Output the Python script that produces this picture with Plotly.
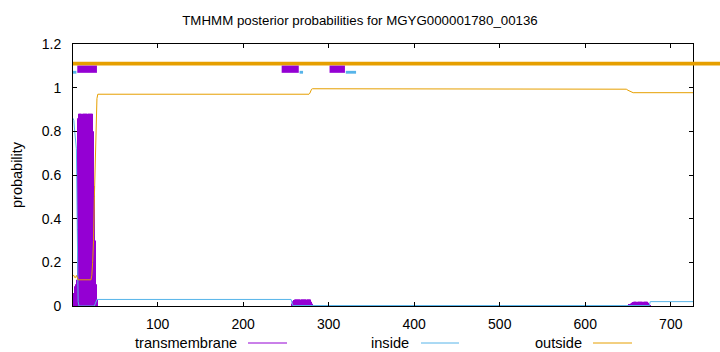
import plotly.graph_objects as go

# ---------------- data ----------------
title_text = "TMHMM posterior probabilities for MGYG000001780_00136"
seq_len = 726
x_ticks = [100, 200, 300, 400, 500, 600, 700]
y_ticks = [0, 0.2, 0.4, 0.6, 0.8, 1.0, 1.2]
y_tick_labels = ["0", "0.2", "0.4", "0.6", "0.8", "1", "1.2"]

# transmembrane posterior (impulses), per residue, in three stretches
tm1_start = 1
tm1_vals = [0.02, 0.06, 0.09, 0.10, 0.12, 0.50, 0.86,
            0.88, 0.88, 0.88, 0.88, 0.88, 0.88, 0.88, 0.88,
            0.88, 0.88, 0.88, 0.88, 0.88, 0.88, 0.88, 0.88,
            0.86, 0.80, 0.55, 0.30, 0.10, 0.03]
tm2_start = 257
tm2_vals = [0.012, 0.022, 0.027,
            0.03, 0.03, 0.03, 0.03, 0.03, 0.03, 0.03, 0.03, 0.03, 0.03,
            0.03, 0.03, 0.03, 0.03, 0.03, 0.03, 0.03, 0.03, 0.03,
            0.028, 0.02, 0.01]
tm3_start = 650
tm3_vals = [0.003, 0.006, 0.009, 0.012, 0.015, 0.017, 0.018,
            0.019, 0.019, 0.019, 0.019, 0.019, 0.019, 0.019, 0.019,
            0.019, 0.019, 0.019, 0.019, 0.019, 0.019, 0.019, 0.019,
            0.018, 0.015, 0.008, 0.002]

# inside posterior (line), breakpoints
inside_x = [1, 2, 3, 4, 5, 6, 7, 8, 26, 27, 28, 29, 256, 257, 258, 675, 676, 726]
inside_y = [0.86, 0.85, 0.80, 0.75, 0.72, 0.35, 0.02, 0.0, 0.0, 0.01, 0.02, 0.03,
            0.03, 0.015, 0.002, 0.002, 0.02, 0.02]

# outside posterior (line), breakpoints
outside_x = [1, 2, 3, 4, 5, 6, 7, 22, 23, 24, 25, 26, 27, 28, 29, 30,
             277, 278, 279, 280, 281, 646, 648, 650, 652, 654, 656, 726]
outside_y = [0.14, 0.14, 0.13, 0.13, 0.14, 0.13, 0.12, 0.12, 0.14, 0.20, 0.30, 0.50,
             0.70, 0.88, 0.95, 0.97, 0.97, 0.975, 0.985, 0.993, 0.995,
             0.995, 0.993, 0.988, 0.983, 0.979, 0.977, 0.977]

# predicted topology (top bars)
tm_regions = [(6, 29), (245, 265), (301, 319)]
inside_regions = [(1, 5), (266, 270), (320, 332)]
outside_region = (1, 760)

# ---------------- style ----------------
PURPLE = "#9400D3"
BLUE = "#56B4E9"
ORANGE = "#E69F00"
FONT = "Liberation Sans, Arial, sans-serif"

W, H = 720, 352
ML, MR, MT, MB = 73, 27, 44, 46
PW = W - ML - MR
PH = H - MT - MB

fig = go.Figure()

for start, vals in [(tm1_start, tm1_vals), (tm2_start, tm2_vals), (tm3_start, tm3_vals)]:
    fig.add_trace(go.Bar(
        x=list(range(start, start + len(vals))), y=vals, width=0.6,
        marker=dict(color=PURPLE, line=dict(width=0)),
        showlegend=False, hoverinfo="skip"))

fig.add_trace(go.Scatter(x=inside_x, y=inside_y, mode="lines",
                         line=dict(color=BLUE, width=1), showlegend=False))
fig.add_trace(go.Scatter(x=outside_x, y=outside_y, mode="lines",
                         line=dict(color=ORANGE, width=1), showlegend=False))

shapes = []
# outside band across the top (overflows the right border like the reference)
x_lo, x_hi = 1, seq_len
def to_paper(v):
    return (v - x_lo) / (x_hi - x_lo)
shapes.append(dict(type="rect", xref="paper", yref="y",
                   x0=to_paper(outside_region[0]), x1=to_paper(outside_region[1]),
                   y0=1.102, y1=1.119, fillcolor=ORANGE, line=dict(width=0), layer="above"))
for a, b in tm_regions:
    shapes.append(dict(type="rect", xref="x", yref="y", x0=a, x1=b, y0=1.068, y1=1.101,
                       fillcolor=PURPLE, line=dict(width=0), layer="above"))
for a, b in inside_regions:
    shapes.append(dict(type="rect", xref="x", yref="y", x0=a, x1=b, y0=1.064, y1=1.077,
                       fillcolor=BLUE, line=dict(width=0), layer="above"))

# legend (gnuplot style: text then sample line)
leg_py = 343
leg_y = (H - MB - leg_py) / PH
legend_items = [("transmembrane", PURPLE, 239, 248, 287),
                ("inside", BLUE, 411, 421, 459),
                ("outside", ORANGE, 584, 593, 632)]
annotations = []
for label, col, tx, l0, l1 in legend_items:
    annotations.append(dict(text=label, xref="paper", yref="paper",
                            x=(tx - ML) / PW, y=leg_y, xanchor="right", yanchor="middle",
                            showarrow=False, font=dict(size=14.6, color="black", family=FONT)))
    shapes.append(dict(type="line", xref="paper", yref="paper",
                       x0=(l0 - ML) / PW, x1=(l1 - ML) / PW, y0=leg_y, y1=leg_y,
                       line=dict(color=col, width=1)))

annotations.append(dict(text="probability", xref="paper", yref="paper",
                        x=(17 - ML) / PW, y=(H - MB - 175) / PH, textangle=-90,
                        xanchor="center", yanchor="middle", showarrow=False,
                        font=dict(size=14.5, color="black", family=FONT)))

fig.update_layout(
    width=W, height=H,
    margin=dict(l=ML, r=MR, t=MT, b=MB),
    paper_bgcolor="white", plot_bgcolor="white",
    font=dict(family=FONT, size=14, color="black"),
    title=dict(text=title_text, x=0.5, xref="container", xanchor="center",
               y=1 - 20 / H, yref="container", yanchor="middle",
               font=dict(size=13.3, color="black", family=FONT)),
    barmode="overlay",
    shapes=shapes, annotations=annotations,
    xaxis=dict(range=[x_lo, x_hi], tickvals=x_ticks, ticktext=[str(v) for v in x_ticks],
               ticks="inside", ticklen=4, tickcolor="black", showline=True, linecolor="black",
               linewidth=1, mirror="ticks", showgrid=False, zeroline=False,
               tickfont=dict(size=14), ticklabelstandoff=5),
    yaxis=dict(range=[0, 1.2], tickvals=y_ticks, ticktext=y_tick_labels,
               ticks="inside", ticklen=4, tickcolor="black", showline=True, linecolor="black",
               linewidth=1, mirror="ticks", showgrid=False, zeroline=False,
               tickfont=dict(size=14), ticklabelstandoff=8),
)

fig.write_html("out.html")
